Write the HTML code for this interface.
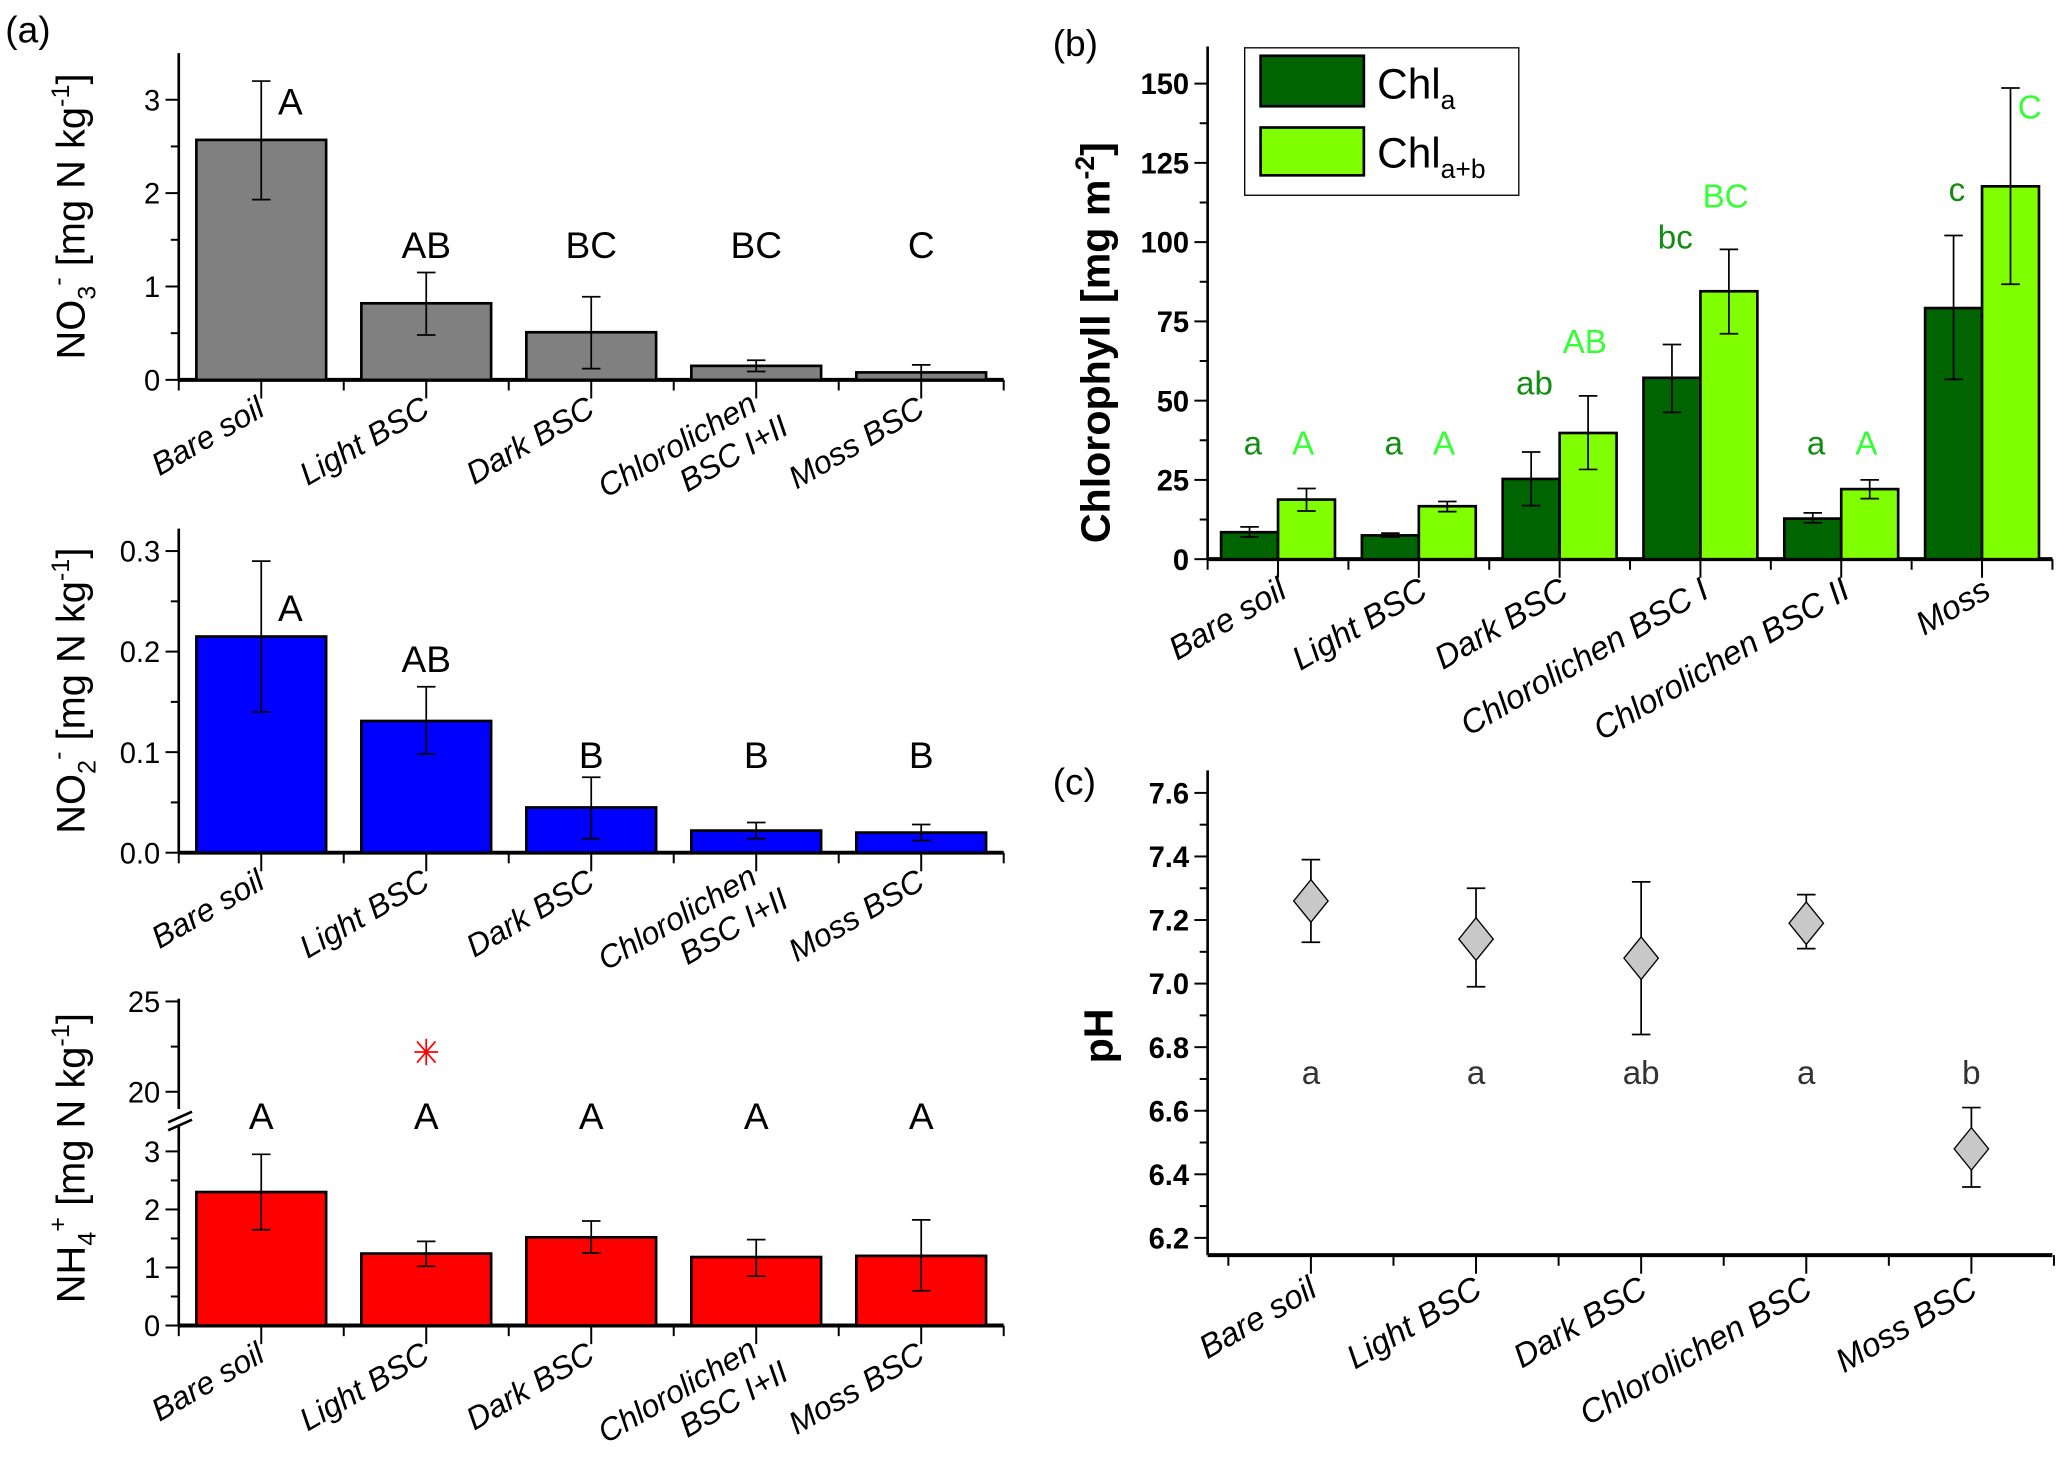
<!DOCTYPE html>
<html><head><meta charset="utf-8"><style>
html,body{margin:0;padding:0;background:#fff;}
svg{display:block;font-family:"Liberation Sans",Arial,sans-serif;}
</style></head><body>
<svg id="fig" width="2067" height="1461" viewBox="0 0 1561 1100" preserveAspectRatio="none" xmlns="http://www.w3.org/2000/svg">
<text x="4" y="32" font-size="28">(a)</text>
<text x="795" y="42" font-size="28">(b)</text>
<text x="795" y="598" font-size="28">(c)</text>
<text transform="translate(64,163) rotate(-90)" text-anchor="middle" font-size="30">NO<tspan font-size="19" dy="8">3</tspan><tspan font-size="19" dy="-22">-</tspan><tspan dy="14"> [mg N kg</tspan><tspan font-size="19" dy="-12">-1</tspan><tspan dy="12">]</tspan></text>
<text transform="translate(64,520) rotate(-90)" text-anchor="middle" font-size="30">NO<tspan font-size="19" dy="8">2</tspan><tspan font-size="19" dy="-22">-</tspan><tspan dy="14"> [mg N kg</tspan><tspan font-size="19" dy="-12">-1</tspan><tspan dy="12">]</tspan></text>
<text transform="translate(64,872) rotate(-90)" text-anchor="middle" font-size="30">NH<tspan font-size="19" dy="8">4</tspan><tspan font-size="19" dy="-22">+</tspan><tspan dy="14"> [mg N kg</tspan><tspan font-size="19" dy="-12">-1</tspan><tspan dy="12">]</tspan></text>
<text transform="translate(838,258) rotate(-90)" text-anchor="middle" font-size="31" font-weight="bold">Chlorophyll [mg m<tspan font-size="20" dy="-12">-2</tspan><tspan dy="12">]</tspan></text>
<text transform="translate(840,780) rotate(-90)" text-anchor="middle" font-size="31" font-weight="bold">pH</text>
<g>
<rect x="940" y="36" width="207" height="111" fill="#fff" stroke="#000" stroke-width="1"/>
<rect x="952" y="42" width="78" height="38" fill="#006400" stroke="#000" stroke-width="2"/>
<rect x="952" y="96" width="78" height="36" fill="#80ff00" stroke="#000" stroke-width="2"/>
<text x="1040" y="74" font-size="32">Chl<tspan font-size="20" dy="8">a</tspan></text>
<text x="1040" y="126" font-size="32">Chl<tspan font-size="20" dy="8">a+b</tspan></text>
</g>
</svg>
<script>
const catsA = [["Bare soil"],["Light BSC"],["Dark BSC"],["Chlorolichen","BSC I+II"],["Moss BSC"]];
const no3Vals = [2.57,0.82,0.51,0.15,0.08];
const no3Lo = [1.93,0.48,0.12,0.09,0.0];
const no3Hi = [3.2,1.15,0.89,0.21,0.16];
const no3Letters = ["A","AB","BC","BC","C"];
const no3LetterVals = [3.0,1.46,1.46,1.46,1.46];
const no3Ticks = ["0","1","2","3"];
const no2Vals = [0.215,0.131,0.045,0.022,0.020];
const no2Lo = [0.14,0.098,0.014,0.014,0.012];
const no2Hi = [0.29,0.165,0.075,0.03,0.028];
const no2Letters = ["A","AB","B","B","B"];
const no2LetterVals = [0.245,0.194,0.099,0.099,0.099];
const no2Ticks = ["0.0","0.1","0.2","0.3"];
const nh4Vals = [2.3,1.24,1.52,1.18,1.2];
const nh4Lo = [1.65,1.02,1.25,0.85,0.6];
const nh4Hi = [2.95,1.45,1.8,1.48,1.82];
const nh4Letters = ["A","A","A","A","A"];
const nh4Outlier = 22.2;
const nh4TicksLow = ["0","1","2","3"];
const nh4TicksHigh = ["20","25"];
const catsB = ["Bare soil","Light BSC","Dark BSC","Chlorolichen BSC I","Chlorolichen BSC II","Moss"];
const chlaVals = [8.5,7.5,25.3,57.2,12.8,79.2];
const chlaLo = [7,7,16.9,46.3,11.5,56.7];
const chlaHi = [10.2,8.2,33.8,67.7,14.6,102.1];
const chlabVals = [18.8,16.7,39.8,84.5,22.1,117.6];
const chlabLo = [15.2,15,28.3,71.1,19.1,86.7];
const chlabHi = [22.3,18.2,51.5,97.7,25,148.6];
const chlaLetters = ["a","a","ab","bc","a","c"];
const chlaLetterVals = [33,33,52,98,33,113];
const chlabLetters = ["A","A","AB","BC","A","C"];
const chlabLetterVals = [33,33,65,111,33,139];
const chlTicks = ["0","25","50","75","100","125","150"];
const catsC = ["Bare soil","Light BSC","Dark BSC","Chlorolichen BSC","Moss BSC"];
const phVals = [7.26,7.14,7.08,7.19,6.48];
const phLo = [7.13,6.99,6.84,7.11,6.36];
const phHi = [7.39,7.30,7.32,7.28,6.61];
const phLetters = ["a","a","ab","a","b"];
const phTicks = ["6.2","6.4","6.6","6.8","7.0","7.2","7.4","7.6"];

const svg = document.getElementById('fig');
const NS = 'http://www.w3.org/2000/svg';
function mk(tag, attrs, name, parent) {
  const el = document.createElementNS(NS, tag);
  for (const k in attrs) el.setAttribute(k, attrs[k]);
  
  
  (parent || svg).appendChild(el);
  return el;
}
function txt(x, y, s, attrs, name, parent) {
  const t = mk('text', Object.assign({x: x, y: y}, attrs), name, parent);
  t.textContent = s;
  return t;
}
function errBar(x, yl, yh, w, name) {
  mk('path', {d: `M${x},${yl}V${yh}M${x-w},${yl}H${x+w}M${x-w},${yh}H${x+w}`, stroke: '#000', 'stroke-width': 1.3, fill: 'none'}, name);
}
function catLabel(x, y, lines, size, name) {
  const g = mk('g', {transform: `translate(${x},${y}) rotate(-30)`}, name);
  lines.forEach((l, i) => {
    txt(i * 12, i * 27 - (lines.length - 1) * 4, l, {'text-anchor': 'end', 'font-size': size, 'font-style': 'italic'}, name + '-line', g);
  });
}
const ax0 = 135, ax1 = 758, nA = 5;
const aw = (ax1 - ax0) / nA;
function xA(i) { return ax0 + aw * (i + 0.5); }

function panelA(p) {
  const y = p.y;
  mk('line', {x1: ax0, y1: p.top, x2: ax0, y2: p.zero, stroke: '#000', 'stroke-width': 2}, p.id + '-y-axis');
  mk('line', {x1: ax0, y1: p.zero, x2: ax1, y2: p.zero, stroke: '#000', 'stroke-width': 3}, p.id + '-x-axis');
  for (let i = 0; i <= nA; i++) mk('line', {x1: ax0 + aw * i, y1: p.zero, x2: ax0 + aw * i, y2: p.zero + 8, stroke: '#000', 'stroke-width': 1.5}, p.id + '-x-minor-tick');
  p.vals.forEach((v, i) => {
    const cx = xA(i);
    mk('rect', {x: cx - 49, y: y(v), width: 98, height: p.zero - y(v), fill: p.color, stroke: '#000', 'stroke-width': 2}, p.id + '-bar-' + i);
    errBar(cx, y(p.lo[i]), y(p.hi[i]), 7, p.id + '-error-bar-' + i);
    mk('line', {x1: cx, y1: p.zero, x2: cx, y2: p.zero + 14, stroke: '#000', 'stroke-width': 1.5}, p.id + '-x-tick');
    catLabel(cx + 4, p.zero + 26, catsA[i], 24, p.id + '-category-label-' + i);
    txt(cx + (i === 0 ? 22 : 0), y(p.letterVals[i]) + 11, p.letters[i], {'text-anchor': 'middle', 'font-size': 28}, p.id + '-letter-' + i);
  });
  p.ticks.forEach((t, i) => {
    const v = parseFloat(t);
    mk('line', {x1: ax0 - 10, y1: y(v), x2: ax0, y2: y(v), stroke: '#000', 'stroke-width': 1.5}, p.id + '-y-tick');
    txt(ax0 - 14, y(v) + 8, t, {'text-anchor': 'end', 'font-size': 22}, p.id + '-y-tick-label');
    if (i < p.ticks.length - 1 || p.extraMinor) {
      const m = v + p.step / 2;
      if (y(m) > p.top) mk('line', {x1: ax0 - 6, y1: y(m), x2: ax0, y2: y(m), stroke: '#000', 'stroke-width': 1.5}, p.id + '-y-minor-tick');
    }
  });
}
panelA({id: 'no3', top: 40, zero: 286, y: v => 286 - v * 70.3, vals: no3Vals, lo: no3Lo, hi: no3Hi, color: '#808080', letters: no3Letters, letterVals: no3LetterVals, ticks: no3Ticks, step: 1, extraMinor: true});
panelA({id: 'no2', top: 398, zero: 642, y: v => 642 - v * 757, vals: no2Vals, lo: no2Lo, hi: no2Hi, color: '#0000ff', letters: no2Letters, letterVals: no2LetterVals, ticks: no2Ticks, step: 0.1});

const yN = v => v <= 5 ? 998 - v * 43.7 : 822 - (v - 20) * 13.6;
mk('line', {x1: ax0, y1: 752, x2: ax0, y2: 835, stroke: '#000', 'stroke-width': 2}, 'nh4-y-axis-upper');
mk('line', {x1: ax0, y1: 848, x2: ax0, y2: 998, stroke: '#000', 'stroke-width': 2}, 'nh4-y-axis-lower');
mk('path', {d: 'M127,845L145,837M127,851L145,843', stroke: '#000', 'stroke-width': 2, fill: 'none'}, 'nh4-axis-break');
mk('line', {x1: ax0, y1: 998, x2: ax1, y2: 998, stroke: '#000', 'stroke-width': 3}, 'nh4-x-axis');
for (let i = 0; i <= nA; i++) mk('line', {x1: ax0 + aw * i, y1: 998, x2: ax0 + aw * i, y2: 1006, stroke: '#000', 'stroke-width': 1.5}, 'nh4-x-minor-tick');
nh4TicksLow.concat(nh4TicksHigh).forEach(t => {
  const v = parseFloat(t);
  mk('line', {x1: ax0 - 10, y1: yN(v), x2: ax0, y2: yN(v), stroke: '#000', 'stroke-width': 1.5}, 'nh4-y-tick');
  txt(ax0 - 14, yN(v) + 8, t, {'text-anchor': 'end', 'font-size': 22}, 'nh4-y-tick-label');
});
[0.5, 1.5, 2.5, 22.5].forEach(v => mk('line', {x1: ax0 - 6, y1: yN(v), x2: ax0, y2: yN(v), stroke: '#000', 'stroke-width': 1.5}, 'nh4-y-minor-tick'));
nh4Vals.forEach((v, i) => {
  const cx = xA(i);
  mk('rect', {x: cx - 49, y: yN(v), width: 98, height: 998 - yN(v), fill: '#ff0000', stroke: '#000', 'stroke-width': 2}, 'nh4-bar-' + i);
  errBar(cx, yN(nh4Lo[i]), yN(nh4Hi[i]), 7, 'nh4-error-bar-' + i);
  mk('line', {x1: cx, y1: 998, x2: cx, y2: 1012, stroke: '#000', 'stroke-width': 1.5}, 'nh4-x-tick');
  catLabel(cx + 4, 1024, catsA[i], 24, 'nh4-category-label-' + i);
  txt(cx, 850, nh4Letters[i], {'text-anchor': 'middle', 'font-size': 28}, 'nh4-letter-' + i);
});
{
  const cx = xA(1), cy = yN(nh4Outlier);
  mk('path', {d: `M${cx-9},${cy}H${cx+9}M${cx},${cy-10}V${cy+10}M${cx-7},${cy-8}L${cx+7},${cy+8}M${cx-7},${cy+8}L${cx+7},${cy-8}`, stroke: '#ff0000', 'stroke-width': 1.3}, 'nh4-outlier-marker');
}

const bx0 = 912, bx1 = 1550, bzero = 421;
const bw = (bx1 - bx0) / catsB.length;
const yB = v => bzero - v * 2.387;
mk('line', {x1: bx0, y1: 35, x2: bx0, y2: bzero, stroke: '#000', 'stroke-width': 2}, 'chl-y-axis');
mk('line', {x1: bx0, y1: bzero, x2: bx1, y2: bzero, stroke: '#000', 'stroke-width': 3}, 'chl-x-axis');
chlTicks.forEach(t => {
  const v = parseFloat(t);
  mk('line', {x1: bx0 - 10, y1: yB(v), x2: bx0, y2: yB(v), stroke: '#000', 'stroke-width': 1.5}, 'chl-y-tick');
  txt(bx0 - 14, yB(v) + 8, t, {'text-anchor': 'end', 'font-size': 22, 'font-weight': 'bold'}, 'chl-y-tick-label');
  if (yB(v + 12.5) > 35) mk('line', {x1: bx0 - 6, y1: yB(v + 12.5), x2: bx0, y2: yB(v + 12.5), stroke: '#000', 'stroke-width': 1.5}, 'chl-y-minor-tick');
});
for (let i = 0; i <= catsB.length; i++) mk('line', {x1: bx0 + bw * i, y1: bzero, x2: bx0 + bw * i, y2: bzero + 8, stroke: '#000', 'stroke-width': 1.5}, 'chl-x-minor-tick');
catsB.forEach((c, i) => {
  const cx = bx0 + bw * (i + 0.5);
  mk('rect', {x: cx - 43, y: yB(chlaVals[i]), width: 43, height: bzero - yB(chlaVals[i]), fill: '#006400', stroke: '#000', 'stroke-width': 2}, 'chla-bar-' + i);
  mk('rect', {x: cx, y: yB(chlabVals[i]), width: 43, height: bzero - yB(chlabVals[i]), fill: '#80ff00', stroke: '#000', 'stroke-width': 2}, 'chlab-bar-' + i);
  errBar(cx - 21.5, yB(chlaLo[i]), yB(chlaHi[i]), 7, 'chla-error-bar-' + i);
  errBar(cx + 21.5, yB(chlabLo[i]), yB(chlabHi[i]), 7, 'chlab-error-bar-' + i);
  mk('line', {x1: cx, y1: bzero, x2: cx, y2: bzero + 14, stroke: '#000', 'stroke-width': 1.5}, 'chl-x-tick');
  catLabel(cx + 8, bzero + 28, [c], 25, 'chl-category-label-' + i);
  txt(cx - 19, yB(chlaLetterVals[i]), chlaLetters[i], {'text-anchor': 'middle', 'font-size': 25, fill: '#128c12'}, 'chla-letter-' + i);
  txt(cx + 19 + (i === 5 ? 17 : 0), yB(chlabLetterVals[i]), chlabLetters[i], {'text-anchor': 'middle', 'font-size': 25, fill: '#33ff33'}, 'chlab-letter-' + i);
});

const cx0 = 912, cx1 = 1550, czero = 945;
const cStart = 990, cw = 124.7;
const yC = v => 932 - (v - 6.2) * 239.3;
mk('line', {x1: cx0, y1: 580, x2: cx0, y2: czero, stroke: '#000', 'stroke-width': 2}, 'ph-y-axis');
mk('line', {x1: cx0, y1: czero, x2: cx1, y2: czero, stroke: '#000', 'stroke-width': 3}, 'ph-x-axis');
phTicks.forEach(t => {
  const v = parseFloat(t);
  mk('line', {x1: cx0 - 10, y1: yC(v), x2: cx0, y2: yC(v), stroke: '#000', 'stroke-width': 1.5}, 'ph-y-tick');
  txt(cx0 - 14, yC(v) + 8, t, {'text-anchor': 'end', 'font-size': 22, 'font-weight': 'bold'}, 'ph-y-tick-label');
  if (v < 7.55) mk('line', {x1: cx0 - 6, y1: yC(v + 0.1), x2: cx0, y2: yC(v + 0.1), stroke: '#000', 'stroke-width': 1.5}, 'ph-y-minor-tick');
});
for (let i = 0; i <= catsC.length; i++) mk('line', {x1: cStart - cw / 2 + cw * i, y1: czero, x2: cStart - cw / 2 + cw * i, y2: czero + 8, stroke: '#000', 'stroke-width': 1.5}, 'ph-x-minor-tick');
catsC.forEach((c, i) => {
  const cx = cStart + cw * i;
  errBar(cx, yC(phLo[i]), yC(phHi[i]), 7, 'ph-error-bar-' + i);
  const py = yC(phVals[i]);
  mk('path', {d: `M${cx},${py-16}L${cx+13},${py}L${cx},${py+16}L${cx-13},${py}Z`, fill: '#c8c8c8', stroke: '#000', 'stroke-width': 1}, 'ph-point-' + i);
  mk('line', {x1: cx, y1: czero, x2: cx, y2: czero + 14, stroke: '#000', 'stroke-width': 1.5}, 'ph-x-tick');
  catLabel(cx + 6, czero + 30, [c], 25, 'ph-category-label-' + i);
  txt(cx, 816, phLetters[i], {'text-anchor': 'middle', 'font-size': 25, fill: '#333'}, 'ph-letter-' + i);
});
</script>
</body></html>
